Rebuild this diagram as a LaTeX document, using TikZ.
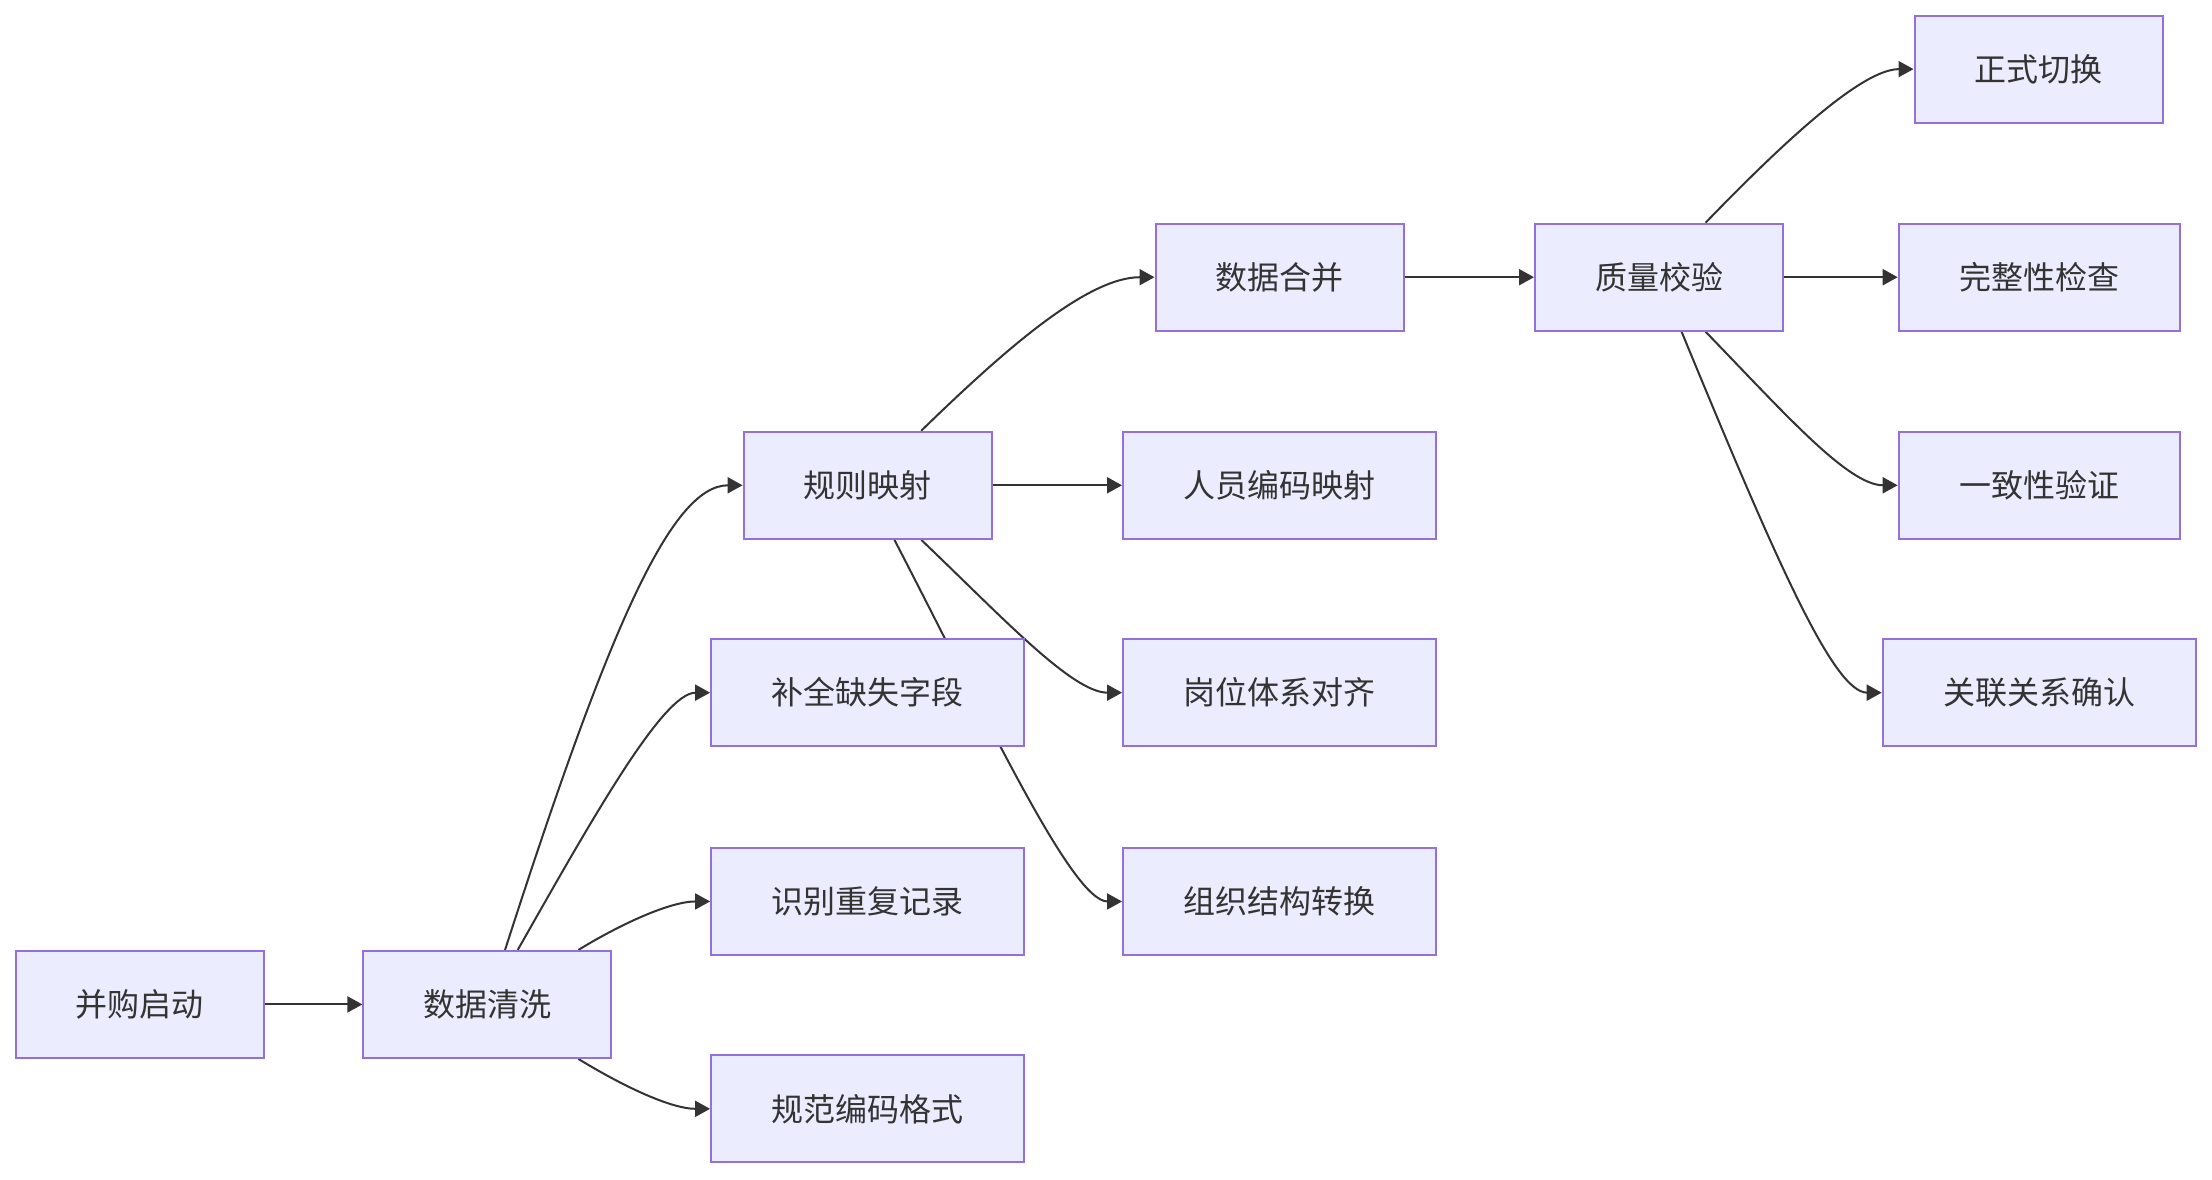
\documentclass[tikz,border=0pt]{standalone}
\usepackage{fontspec}
\setmainfont{Noto Sans CJK SC}
\usetikzlibrary{arrows.meta,calc}
\definecolor{nodefill}{HTML}{ECECFF}
\definecolor{nodeline}{HTML}{9370DB}
\definecolor{ink}{HTML}{333333}
\pgfdeclarelayer{edges}
\pgfsetlayers{edges,main}
\begin{document}
\begin{tikzpicture}[x=1.4107pt,y=-1.4107pt,
  box/.style={draw=nodeline,fill=nodefill,line width=2pt,minimum height=107pt,inner sep=0pt,text=ink,font=\fontsize{32pt}{38pt}\selectfont},
  w1/.style={box,minimum width=248pt},
  w2/.style={box,minimum width=313pt},
  w3/.style={box,minimum width=281pt},
  link/.style={draw=ink,line width=2pt,-{Triangle[length=15pt,width=16pt]}}]
\useasboundingbox (0,0) rectangle (1568,836);
\path
 (99,712) node[w1] (a) {并购启动}
 (345.5,712) node[w1] (b) {数据清洗}
 (615,344) node[w1] (c) {规则映射}
 (615,491) node[w2] (d) {补全缺失字段}
 (615,639) node[w2] (e) {识别重复记录}
 (615,786) node[w2] (f) {规范编码格式}
 (907,196.5) node[w1] (g) {数据合并}
 (907,344) node[w2] (h) {人员编码映射}
 (907,491) node[w2] (i) {岗位体系对齐}
 (907,639) node[w2] (j) {组织结构转换}
 (1176,196.5) node[w1] (k) {质量校验}
 (1445,49) node[w1] (l) {正式切换}
 (1445.5,196.5) node[w3] (m) {完整性检查}
 (1445.5,344) node[w3] (n) {一致性验证}
 (1445.5,491) node[w2] (o) {关联关系确认};
\begin{pgfonlayer}{edges}
\draw[link] (a) -- (b);
\draw[link] ($(b.north)+(12.5,0)$) .. controls (430,450) and (475,344) .. (c.west);
\draw[link] ($(b.north)+(21.5,0)$) .. controls (420,580) and (470,491) .. (d.west);
\draw[link] ($(b.north)+(64.5,0)$) .. controls (440,655) and (475,639) .. (e.west);
\draw[link] ($(b.south)+(64.5,0)$) .. controls (440,769) and (475,786) .. (f.west);
\draw[link] ($(c.north)+(38,0)$) .. controls (710,250) and (770,196.5) .. (g.west);
\draw[link] (c) -- (h);
\draw[link] ($(c.south)+(38,0)$) .. controls (710,437) and (760,491) .. (i.west);
\draw[link] ($(c.south)+(19,0)$) .. controls (700,510) and (760,639) .. (j.west);
\draw[link] (g) -- (k);
\draw[link] ($(k.north)+(33,0)$) .. controls (1265,100) and (1320,49) .. (l.west);
\draw[link] (k) -- (m);
\draw[link] ($(k.south)+(33,0)$) .. controls (1265,293) and (1310,344) .. (n.west);
\draw[link] ($(k.south)+(16,0)$) .. controls (1260,400) and (1300,491) .. (o.west);
\end{pgfonlayer}
\end{tikzpicture}
\end{document}
